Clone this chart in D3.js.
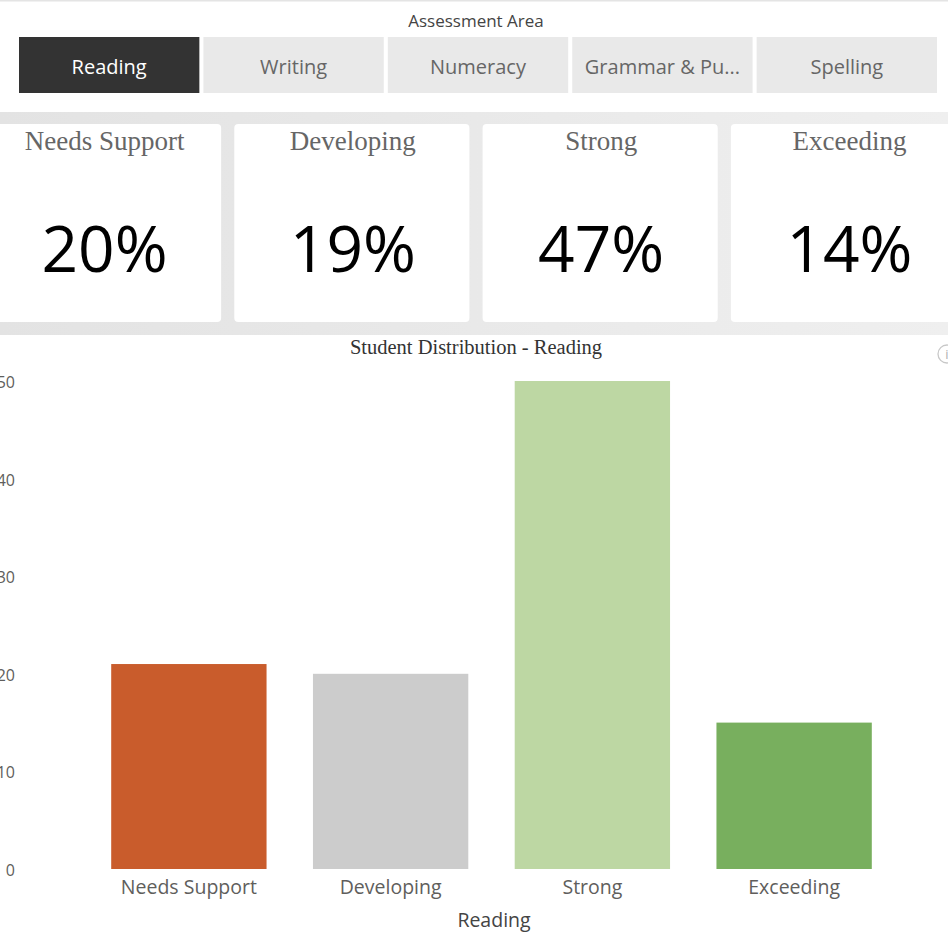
<!DOCTYPE html>
<html>
<head>
<meta charset="utf-8">
<script src="https://cdn.jsdelivr.net/npm/d3@7"></script>
<style>
  html, body { margin: 0; padding: 0; background: #ffffff; }
  svg { display: block; }
</style>
</head>
<body>
<svg id="chart" width="948" height="942"></svg>
<script>
// ---------- DATA ----------
const slicerTitle = "Assessment Area";
const areas = ["Reading", "Writing", "Numeracy", "Grammar & Pu...", "Spelling"];
const selectedArea = "Reading";
const levels = ["Needs Support", "Developing", "Strong", "Exceeding"];
const studentCounts = [21, 20, 50, 15];
const levelColors = ["#C95C2C", "#CCCCCC", "#BDD7A3", "#78AF5E"];
const yTicks = [0, 10, 20, 30, 40, 50];
const chartTitle = "Student Distribution - Reading";
const xAxisTitle = "Reading";

// ---------- SETUP ----------
const svg = d3.select("#chart");
const W = 948, H = 942;
const sans = "'Segoe UI', 'Open Sans', 'Noto Sans', sans-serif";
const serif = "'Liberation Serif', 'Times New Roman', serif";

// top hairline
svg.append("rect").attr("x", 0).attr("y", 0).attr("width", W).attr("height", 1.5).attr("fill", "#E4E4E4");

// ---------- SLICER ----------
svg.append("text")
  .attr("x", 476).attr("y", 27)
  .attr("text-anchor", "middle")
  .attr("font-family", sans).attr("font-size", 17)
  .attr("fill", "#444444")
  .text(slicerTitle);

const btnX = d3.scaleBand().domain(areas).range([19, 937]).paddingInner(0.022);
const btn = svg.append("g").selectAll("g").data(areas).join("g")
  .attr("transform", d => `translate(${btnX(d)},37)`);
btn.append("rect")
  .attr("width", btnX.bandwidth()).attr("height", 56)
  .attr("fill", d => d === selectedArea ? "#333333" : "#E9E9E9");
btn.append("text")
  .attr("x", btnX.bandwidth() / 2).attr("y", 37)
  .attr("text-anchor", "middle")
  .attr("font-family", sans).attr("font-size", 20)
  .attr("fill", d => d === selectedArea ? "#FFFFFF" : "#666666")
  .text(d => d);

// ---------- KPI CARDS ----------
const defs = svg.append("defs");
const grad = defs.append("linearGradient").attr("id", "bandGrad")
  .attr("x1", "0%").attr("x2", "100%").attr("y1", "0%").attr("y2", "0%");
grad.append("stop").attr("offset", "0%").attr("stop-color", "#E3E3E3");
grad.append("stop").attr("offset", "50%").attr("stop-color", "#E9E9E9");
grad.append("stop").attr("offset", "100%").attr("stop-color", "#EFEFEF");
svg.append("rect").attr("x", 0).attr("y", 112).attr("width", W).attr("height", 223)
  .attr("fill", "url(#bandGrad)");

const total = d3.sum(studentCounts);
const pct = d3.format(".0%");
const cardX = d3.scaleBand().domain(levels).range([-14, 966]).paddingInner(0.053);
const card = svg.append("g").selectAll("g").data(levels).join("g")
  .attr("transform", d => `translate(${cardX(d)},124)`);
card.append("rect")
  .attr("width", cardX.bandwidth()).attr("height", 198)
  .attr("rx", 4).attr("ry", 4)
  .attr("fill", "#FFFFFF");
card.append("text")
  .attr("x", cardX.bandwidth() / 2 + 1).attr("y", 26)
  .attr("text-anchor", "middle")
  .attr("font-family", serif).attr("font-size", 27)
  .attr("fill", "#666666")
  .text(d => d);
card.append("text")
  .attr("x", cardX.bandwidth() / 2 + 1).attr("y", 148)
  .attr("text-anchor", "middle")
  .attr("font-family", sans).attr("font-size", 64)
  .attr("fill", "#000000")
  .text((d, i) => pct(studentCounts[i] / total));

// ---------- BAR CHART ----------
svg.append("text")
  .attr("x", 476).attr("y", 354)
  .attr("text-anchor", "middle")
  .attr("font-family", serif).attr("font-size", 20.5)
  .attr("fill", "#333333")
  .text(chartTitle);

// info icon (partially cut off at right edge)
const info = svg.append("g").attr("transform", "translate(947,354)");
info.append("circle").attr("r", 9).attr("fill", "none").attr("stroke", "#C8C8C8").attr("stroke-width", 1.3);
info.append("text").attr("y", 5).attr("text-anchor", "middle")
  .attr("font-family", sans).attr("font-size", 13).attr("fill", "#B0B0B0").text("i");

const x = d3.scaleBand().domain(levels).range([88, 895]).paddingInner(0.23).paddingOuter(0.115);
const y = d3.scaleLinear().domain([0, 50]).range([869, 381]);

svg.append("g").selectAll("rect").data(levels).join("rect")
  .attr("x", d => x(d))
  .attr("y", (d, i) => y(studentCounts[i]))
  .attr("width", x.bandwidth())
  .attr("height", (d, i) => y(0) - y(studentCounts[i]))
  .attr("fill", (d, i) => levelColors[i]);

const yAxis = svg.append("g").attr("transform", "translate(15,0)")
  .call(d3.axisLeft(y).tickValues(yTicks).tickSize(0).tickPadding(0));
yAxis.select(".domain").remove();
yAxis.selectAll("text")
  .attr("font-family", sans).attr("font-size", 16).attr("fill", "#605E5C")
  .attr("dy", "0.4em");

const xAxis = svg.append("g").attr("transform", "translate(0,869)")
  .call(d3.axisBottom(x).tickSize(0).tickPadding(11));
xAxis.select(".domain").remove();
xAxis.selectAll("text")
  .attr("font-family", sans).attr("font-size", 19.5).attr("fill", "#605E5C");

svg.append("text")
  .attr("x", 494).attr("y", 927)
  .attr("text-anchor", "middle")
  .attr("font-family", sans).attr("font-size", 19.5)
  .attr("fill", "#444444")
  .text(xAxisTitle);
</script>
</body>
</html>
